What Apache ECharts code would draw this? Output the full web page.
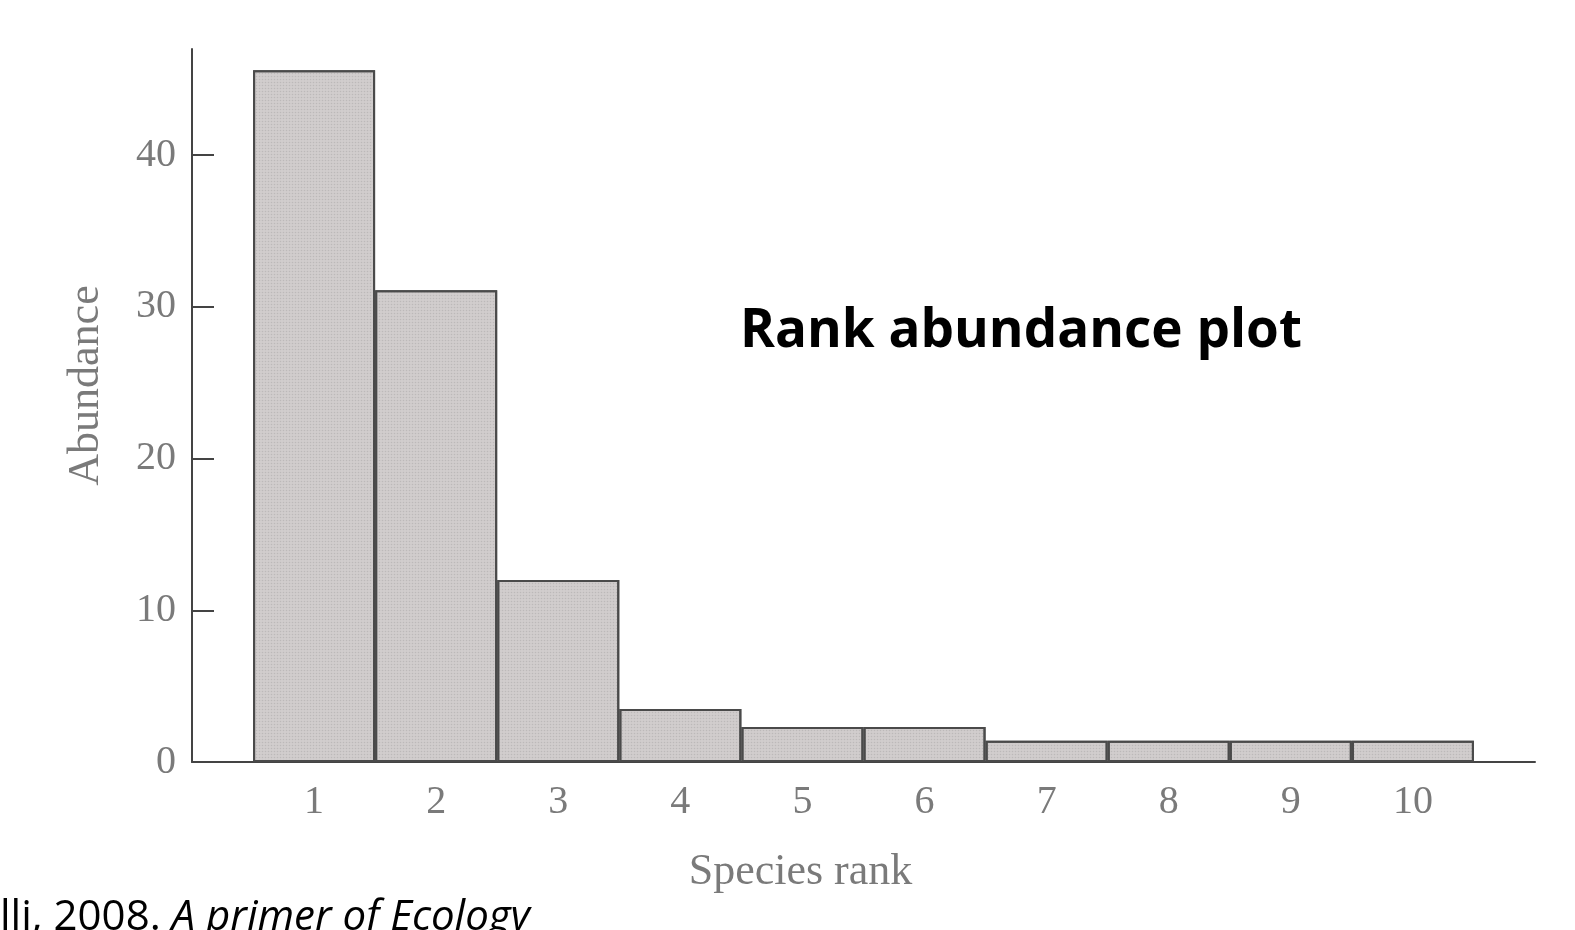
<!DOCTYPE html>
<html>
<head>
<meta charset="utf-8">
<script src="https://cdn.jsdelivr.net/npm/echarts@6/dist/echarts.min.js"></script>
<style>
  html, body { margin: 0; padding: 0; background: #fff; }
  #chart { width: 1575px; height: 930px; }
</style>
</head>
<body>
<div id="chart"></div>
<script>
// species rank 1..10 and abundance
const ranks = [1, 2, 3, 4, 5, 6, 7, 8, 9, 10];
const abundance = [45.6, 31.1, 12.0, 3.5, 2.3, 2.3, 1.4, 1.4, 1.4, 1.4];
const yTicks = [0, 10, 20, 30, 40];

const serif = '"Liberation Serif", "DejaVu Serif", serif';
const grey = '#7a7a7a';

let chart = echarts.init(document.getElementById('chart'));
let option = {
  animation: false,
  backgroundColor: '#fff',
  grid: {left: 192, right: 40, top: 49, bottom: 168},
  title: {
    text: 'Rank abundance plot',
    left: 735,
    top: 300,
    textStyle: {fontFamily: '"Open Sans", "Liberation Sans", sans-serif', fontWeight: 'bold', fontSize: 53, color: '#000'}
  },
  graphic: [
    {
      type: 'text',
      left: 0,
      top: 897,
      style: {
        text: '{n|lli, 2008. }{i|A primer of Ecology}',
        rich: {
          n: {fontFamily: '"Open Sans", sans-serif', fontSize: 42, fill: '#000'},
          i: {fontFamily: '"Open Sans", sans-serif', fontSize: 42, fontStyle: 'italic', fill: '#000'}
        }
      }
    }
  ],
  xAxis: {
    type: 'value',
    min: 0,
    max: 11,
    interval: 1,
    name: 'Species rank',
    nameLocation: 'middle',
    nameGap: 88,
    nameTextStyle: {fontFamily: serif, fontSize: 44, color: grey, padding: [0, 126, 0, 0]},
    splitLine: {show: false},
    axisTick: {show: false},
    axisLine: {lineStyle: {color: '#444', width: 2}},
    axisLabel: {
      fontFamily: serif, fontSize: 40, color: grey, margin: 20,
      formatter: function (v) {
        return ranks.indexOf(v) >= 0 ? String(v) : ''
      }
    }
  },
  yAxis: {
    type: 'value',
    min: 0,
    max: 47,
    interval: 10,
    name: 'Abundance',
    nameLocation: 'middle',
    nameGap: 84,
    nameTextStyle: {fontFamily: serif, fontSize: 44, color: grey, padding: [0, 0, 0, 40]},
    splitLine: {show: false},
    axisLine: {show: true, lineStyle: {color: '#444', width: 2}},
    axisTick: {show: true, inside: true, length: 22, customValues: yTicks, lineStyle: {color: '#444', width: 2}},
    axisLabel: {
      fontFamily: serif, fontSize: 40, color: grey, margin: 16,
      customValues: yTicks
    }
  },
  series: [
    {
      type: 'bar',
      barWidth: 122,
      data: ranks.map((r, i) => [r, abundance[i]]),
      itemStyle: {
        color: '#d1cdcd',
        borderColor: '#4a4a4a',
        borderWidth: 2,
        decal: {symbol: 'circle', symbolSize: 0.5, color: 'rgba(150,150,150,0.35)', dashArrayX: [3, 0], dashArrayY: [3, 0]}
      }
    }
  ]
};
chart.setOption(option);
</script>
</body>
</html>
